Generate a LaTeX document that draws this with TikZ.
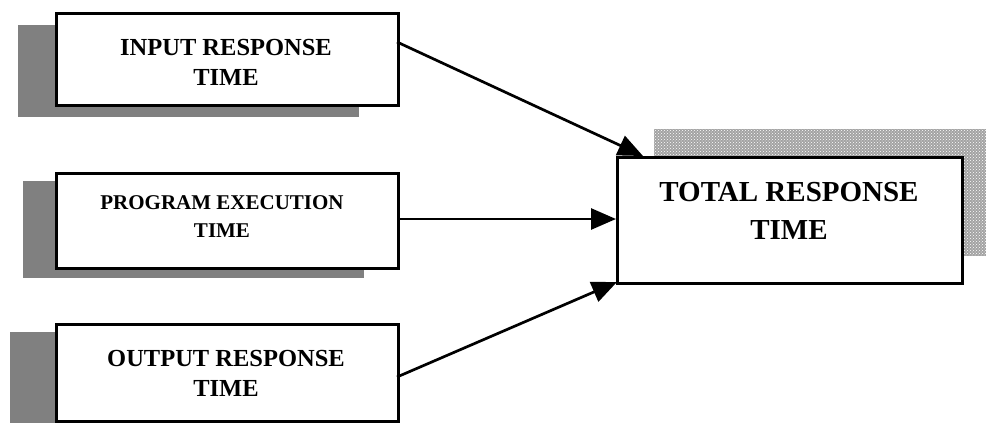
\documentclass[tikz,border=0pt]{standalone}
\usepackage{fontspec}
\setmainfont{Liberation Serif}
\usetikzlibrary{arrows.meta,patterns}
\begin{document}
\begin{tikzpicture}[x=1pt,y=-1pt,
  box/.style={draw=black,line width=3pt,fill=white},
  shad/.style={fill=black!50,draw=none},
  conn/.style={line width=2.7pt,-{Triangle[length=25pt,width=21pt]}},
  lbl/.style={align=center,font=\bfseries,inner sep=0pt}]
\useasboundingbox (0,0) rectangle (986,423);
\begin{scope}
\clip (0,0) rectangle (986,423);
% shadows
\fill[shad] (18,25) rectangle (359,117);
\fill[shad] (23,181) rectangle (364,278);
\fill[shad] (10,332) rectangle (351,430);
\fill[black!36] (654,129) rectangle (1000,256);
\fill[pattern=crosshatch dots,pattern color=white] (654,129) rectangle (1000,256);
\end{scope}
% boxes
\node[box,minimum width=342pt,minimum height=92pt,anchor=north west] (b1) at (55,12) {};
\node[box,minimum width=342pt,minimum height=95pt,anchor=north west] (b2) at (55,172) {};
\node[box,minimum width=342pt,minimum height=97pt,anchor=north west] (b3) at (55,323) {};
\node[box,minimum width=345pt,minimum height=126pt,anchor=north west] (t) at (616,156) {};
% labels
\node[lbl,font=\fontsize{24.5}{30}\selectfont\bfseries] (l1) at (226,62) {INPUT RESPONSE\\TIME};
\node[lbl,font=\fontsize{21}{28}\selectfont\bfseries] (l2) at (222,217) {PROGRAM EXECUTION\\TIME};
\node[lbl,font=\fontsize{24.5}{30}\selectfont\bfseries] (l3) at (226,373) {OUTPUT RESPONSE\\TIME};
\node[lbl,font=\fontsize{29}{38}\selectfont\bfseries] (l4) at (789,211) {TOTAL RESPONSE\\TIME};
% connectors
\coordinate (a1) at (397,42);
\coordinate (t1) at (643,156);
\coordinate (a2) at (397,219);
\coordinate (a3) at (397,377);
\coordinate (t3) at (617,282);
\draw[conn] (a1) -- (t1);
\draw[conn] (a2) -- (t.west |- a2);
\draw[conn] (a3) -- (t3);
\end{tikzpicture}
\end{document}
